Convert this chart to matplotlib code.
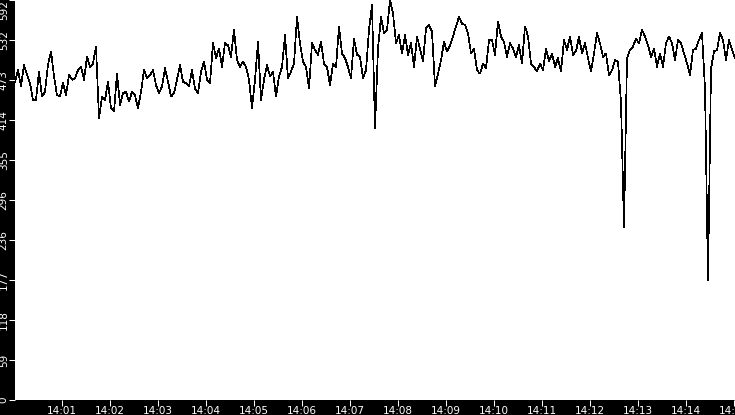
import matplotlib
matplotlib.use('Agg')
import matplotlib.pyplot as plt
import matplotlib.dates as mdates
import numpy as np
import pandas as pd

# readings, one every 3.75 s starting 14:00:01
seg1 = [471, 488, 464, 496, 481, 469, 444, 444, 486, 449,
        456, 496, 516, 479, 451, 450, 469, 451, 481, 474,
        476, 488, 493, 474, 508, 493, 498, 523, 417, 449,
        444, 471, 432, 427, 483, 437, 454, 456, 442, 456,
        451, 432, 456, 488, 476, 481, 488, 466, 454, 464,
        491, 471, 449, 454, 474, 496, 471, 469, 464, 488]
seg2 = [461, 454, 486, 501, 474, 469, 528, 506, 520, 493,
        528, 525, 508, 548, 503, 493, 501, 493, 474, 432,
        474, 530, 444, 474, 496, 479, 486, 449, 479, 493,
        540, 476, 486, 498, 567, 528, 501, 493, 461, 528,
        518, 511, 530, 498, 493, 466, 498, 493, 553, 513,
        506, 493, 476, 535, 511, 508, 476, 488, 548, 585]
seg3 = [403, 520, 567, 543, 548, 592, 572, 528, 540, 513,
        540, 511, 528, 493, 538, 520, 501, 550, 555, 545,
        465, 483, 503, 530, 516, 525, 538, 553, 567, 557,
        555, 543, 513, 520, 488, 483, 498, 491, 533, 533,
        511, 560, 538, 530, 508, 528, 520, 508, 525, 498,
        553, 538, 498, 493, 486, 498, 488, 520, 501, 513]
seg4 = [493, 506, 486, 533, 518, 538, 511, 516, 538, 513,
        528, 506, 486, 513, 543, 528, 508, 513, 481, 488,
        503, 501, 440, 256, 506, 518, 523, 535, 528, 548,
        538, 525, 508, 520, 493, 513, 493, 528, 538, 528,
        503, 533, 528, 513, 498, 481, 518, 520, 533, 543,
        461, 178, 490, 516, 518, 543, 533, 503, 533, 518,
        506]

y_ticks = [0, 59.2, 118.4, 177.6, 236.8, 296, 355.2, 414.4, 473.6, 532.8, 592]
y_labels = ['0', '59', '118', '177', '236', '296', '355', '414', '473', '532', '592']

values = np.array(seg1 + seg2 + seg3 + seg4)
start = pd.Timestamp('2024-01-01 14:00:01')
times = (start + pd.to_timedelta(np.arange(len(values)) * 3.75, unit='s')).to_pydatetime()

fig = plt.figure(figsize=(7.35, 4.15), dpi=100, facecolor='black')
ax = fig.add_axes([15 / 735, 15 / 415, 720 / 735, 400 / 415])
ax.set_facecolor('white')
ax.plot(times, values, color='black', lw=0.5, antialiased=False)

ax.set_xlim(start.to_pydatetime(), (start + pd.Timedelta(seconds=900)).to_pydatetime())
ax.set_ylim(0, 592)
ax.xaxis.set_major_locator(mdates.MinuteLocator())
ax.xaxis.set_major_formatter(mdates.DateFormatter('%H:%M'))
ax.set_yticks(y_ticks)
ax.set_yticklabels(y_labels)

for s in ax.spines.values():
    s.set_visible(False)
ax.tick_params(colors='white', labelsize=7.5, length=4, width=0.75, direction='out', pad=0.5)
for lab in ax.get_yticklabels():
    lab.set_rotation(90)
    lab.set_va('center')
ax.get_yticklabels()[-1].set_va('top')

fig.savefig('out.png', dpi=100, facecolor='black')
plt.close(fig)
